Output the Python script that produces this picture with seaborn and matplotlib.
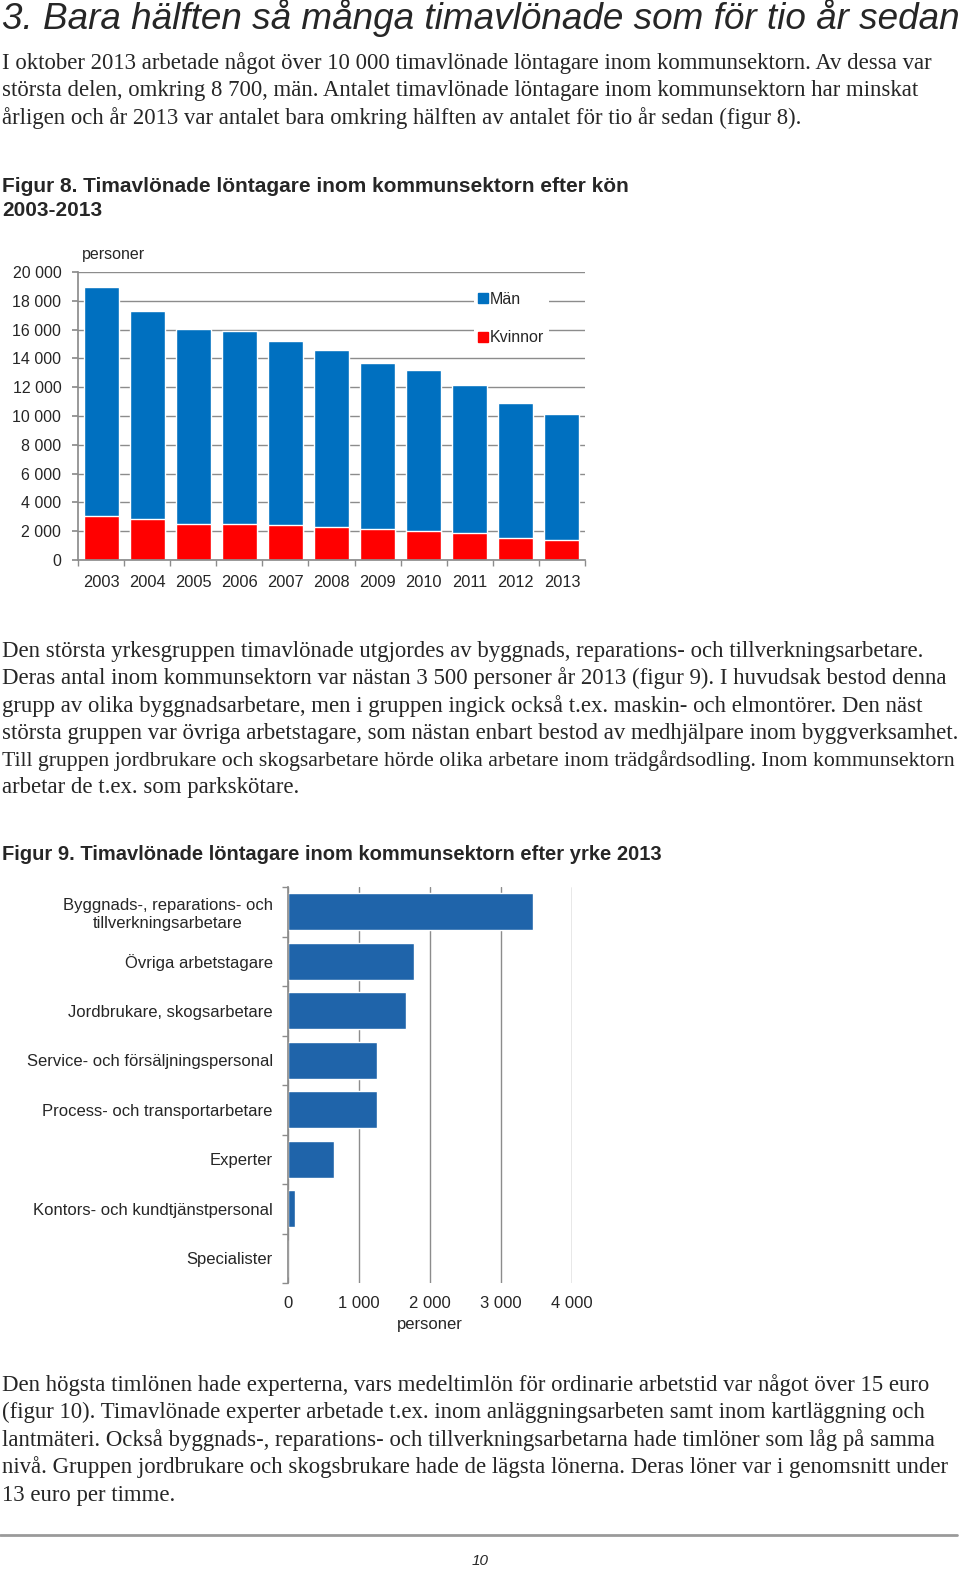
import numpy as np
import matplotlib
matplotlib.use("Agg")
import matplotlib.pyplot as plt
import seaborn as sns
from matplotlib.lines import Line2D
from matplotlib.ticker import FuncFormatter

# Figur 8 data: timavlönade löntagare efter kön
years = ["2003", "2004", "2005", "2006", "2007", "2008", "2009", "2010", "2011", "2012", "2013"]
men = [15870, 14440, 13540, 13400, 12780, 12280, 11580, 11160, 10250, 9320, 8760]
women = [3090, 2820, 2470, 2470, 2400, 2280, 2120, 2010, 1890, 1550, 1410]

# Figur 9 data: timavlönade efter yrke 2013
occupations = [
    "Byggnads-, reparations- och\ntillverkningsarbetare",
    "Övriga arbetstagare",
    "Jordbrukare, skogsarbetare",
    "Service- och försäljningspersonal",
    "Process- och transportarbetare",
    "Experter",
    "Kontors- och kundtjänstpersonal",
    "Specialister",
]
counts = [3450, 1780, 1655, 1255, 1255, 645, 95, 0]

title = "3. Bara hälften så många timavlönade som för tio år sedan"
para1 = [
    "I oktober 2013 arbetade något över 10 000 timavlönade löntagare inom kommunsektorn. Av dessa var",
    "största delen, omkring 8 700, män. Antalet timavlönade löntagare inom kommunsektorn har minskat",
    "årligen och år 2013 var antalet bara omkring hälften av antalet för tio år sedan (figur 8).",
]
caption8 = ["Figur 8. Timavlönade löntagare inom kommunsektorn efter kön", "2003-2013"]
para2 = [
    "Den största yrkesgruppen timavlönade utgjordes av byggnads, reparations- och tillverkningsarbetare.",
    "Deras antal inom kommunsektorn var nästan 3 500 personer år 2013 (figur 9). I huvudsak bestod denna",
    "grupp av olika byggnadsarbetare, men i gruppen ingick också t.ex. maskin- och elmontörer. Den näst",
    "största gruppen var övriga arbetstagare, som nästan enbart bestod av medhjälpare inom byggverksamhet.",
    "Till gruppen jordbrukare och skogsarbetare hörde olika arbetare inom trädgårdsodling. Inom kommunsektorn",
    "arbetar de t.ex. som parkskötare.",
]
caption9 = "Figur 9. Timavlönade löntagare inom kommunsektorn efter yrke 2013"
para3 = [
    "Den högsta timlönen hade experterna, vars medeltimlön för ordinarie arbetstid var något över 15 euro",
    "(figur 10). Timavlönade experter arbetade t.ex. inom anläggningsarbeten samt inom kartläggning och",
    "lantmäteri. Också byggnads-, reparations- och tillverkningsarbetarna hade timlöner som låg på samma",
    "nivå. Gruppen jordbrukare och skogsbrukare hade de lägsta lönerna. Deras löner var i genomsnitt under",
    "13 euro per timme.",
]

BLUE = "#0070C0"
RED = "#FF0000"
BLUE2 = "#1F64AA"
GRID = "#8c8c8c"
W, H = 960, 1572


def fx(x):
    return x / W


def fy(y):
    return 1 - y / H


def thousands(v, pos):
    return f"{int(v):,}".replace(",", " ")


sns.set_theme(style="white")
plt.rcParams["font.family"] = ["Liberation Sans", "DejaVu Sans"]

fig = plt.figure(figsize=(9.6, 15.72), dpi=100)
renderer = fig.canvas.get_renderer()


def body_lines(lines, y0, step, size=16.4):
    # serif body text, one text per line; squeeze lines that run past the page
    for i, s in enumerate(lines):
        t = fig.text(fx(2), fy(y0 + i * step), s, family="Liberation Serif",
                     fontsize=size, va="center", ha="left")
        w = t.get_window_extent(renderer).width
        if w > 955:
            t.set_fontsize(size * 955 / w)


# Heading and text
fig.text(fx(2), fy(18), title, style="italic", fontsize=26.6, va="center")
body_lines(para1, 63, 27.5)
fig.text(fx(2), fy(186), caption8[0], weight="bold", fontsize=15, va="center")
fig.text(fx(2), fy(211), caption8[1], weight="bold", fontsize=15, va="center")

# Figur 8: stacked bars
ax1 = fig.add_axes([fx(78), fy(560), (585 - 78) / W, (560 - 272) / H])
total = np.array(men) + np.array(women)
sns.barplot(x=years, y=total, color=BLUE, saturation=1, width=0.76, ax=ax1)
sns.barplot(x=years, y=women, color=RED, saturation=1, width=0.76, ax=ax1)
ax1.set_xlim(-0.5, len(years) - 0.5)
ax1.set_ylim(0, 20000)
ax1.set_yticks(range(0, 20001, 2000))
ax1.yaxis.set_major_formatter(FuncFormatter(thousands))
ax1.set_xticks(np.arange(-0.5, len(years)), minor=True)
ax1.grid(axis="y", color=GRID, lw=1)
ax1.set_axisbelow(True)
for side in ["top", "right"]:
    ax1.spines[side].set_visible(False)
for side in ["left", "bottom"]:
    ax1.spines[side].set_color(GRID)
ax1.tick_params(axis="y", left=True, length=4, color=GRID, labelsize=11.5, pad=8)
ax1.tick_params(axis="x", which="major", length=0, labelsize=11.8, pad=11)
ax1.tick_params(axis="x", which="minor", bottom=True, length=4, color=GRID)
ax1.set_xlabel("")
ax1.set_ylabel("")
fig.text(fx(82), fy(255), "personer", fontsize=11.5, va="center")

handles = [
    Line2D([], [], marker="s", ls="", color=BLUE, markersize=7, label="Män"),
    Line2D([], [], marker="s", ls="", color=RED, markersize=7, label="Kvinnor"),
]
ax1.legend(handles=handles, loc="upper left", bbox_to_anchor=(0.765, 0.975),
           frameon=True, facecolor="white", edgecolor="none", framealpha=1,
           fontsize=11.5, labelspacing=1.45, handlelength=0.6, handletextpad=0.1,
           borderpad=0.3, fancybox=False)

body_lines(para2, 651, 27.4)
fig.text(fx(2), fy(855), caption9, weight="bold", fontsize=14.5, va="center")

# Figur 9: horizontal bars
ax2 = fig.add_axes([fx(288), fy(1283), (572 - 288) / W, (1283 - 887) / H])
sns.barplot(x=counts, y=occupations, orient="h", color=BLUE2, saturation=1,
            width=0.74, ax=ax2)
ax2.set_xlim(0, 4000)
ax2.set_ylim(len(occupations) - 0.5, -0.5)
ax2.set_xticks(range(0, 4001, 1000))
ax2.xaxis.set_major_formatter(FuncFormatter(thousands))
ax2.set_yticks(np.arange(-0.5, len(occupations)), minor=True)
ax2.grid(axis="x", color=GRID, lw=1)
ax2.set_axisbelow(True)
for side in ["top", "right", "bottom"]:
    ax2.spines[side].set_visible(False)
ax2.spines["left"].set_color(GRID)
ax2.tick_params(axis="y", which="major", length=0, labelsize=12, pad=11)
ax2.tick_params(axis="y", which="minor", left=True, length=4, color=GRID)
ax2.tick_params(axis="x", length=0, labelsize=12, pad=9)
for lab in ax2.get_yticklabels():
    lab.set_multialignment("center")
ax2.set_ylabel("")
ax2.set_xlabel("personer", fontsize=12, labelpad=5)

body_lines(para3, 1385, 27.5)

# footer
fig.add_artist(Line2D([0, 957 / W], [fy(1535), fy(1535)], color="#9a9a9a", lw=2,
                      transform=fig.transFigure))
fig.text(fx(480), fy(1561), "10", style="italic", fontsize=11, ha="center", va="center")

fig.savefig("out.png", dpi=100)
